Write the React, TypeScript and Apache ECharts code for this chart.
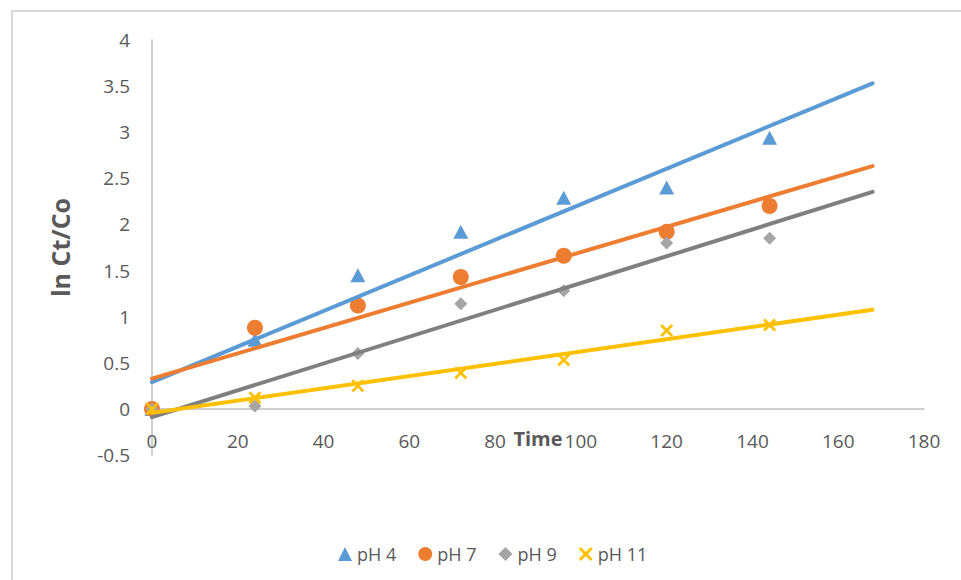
import React, { useEffect, useRef } from "react";
import * as echarts from "echarts";

// Sampling times (h) and ln(Ct/Co) at each pH
const times = [0, 24, 48, 72, 96, 120, 144];
const ph4 = [0, 0.75, 1.45, 1.92, 2.29, 2.4, 2.94];
const ph7 = [0, 0.88, 1.12, 1.43, 1.66, 1.92, 2.2];
const ph9 = [0, 0.03, 0.6, 1.14, 1.28, 1.8, 1.85];
const ph11 = [0, 0.12, 0.25, 0.39, 0.53, 0.85, 0.91];

const seriesNames = ["pH 4", "pH 7", "pH 9", "pH 11"];
const markerColors = ["#5B9BD5", "#ED7D31", "#A5A5A5", "#FFC000"];
const trendColors = ["#5B9BD5", "#ED7D31", "#7F7F7F", "#FFC000"];
const trendRange = [0, 168];

const crossSymbol =
  "path://M1.5,0 L5,3.5 L8.5,0 L10,1.5 L6.5,5 L10,8.5 L8.5,10 L5,6.5 L1.5,10 L0,8.5 L3.5,5 L0,1.5 Z";
const symbols = ["triangle", "circle", "diamond", crossSymbol];
const symbolSizes = [[15, 14], 16, 13, 13];

// Ordinary least-squares fit, as a linear trendline
function linearFit(xs: number[], ys: number[]) {
  const n = xs.length;
  const mx = xs.reduce((a, b) => a + b, 0) / n;
  const my = ys.reduce((a, b) => a + b, 0) / n;
  let sxy = 0;
  let sxx = 0;
  for (let i = 0; i < n; i++) {
    sxy += (xs[i] - mx) * (ys[i] - my);
    sxx += (xs[i] - mx) * (xs[i] - mx);
  }
  const slope = sxy / sxx;
  return { slope, intercept: my - slope * mx };
}

const FONT = "'Open Sans', 'Liberation Sans', sans-serif";
const TEXT = "#595959";

export default function App() {
  const ref = useRef<HTMLDivElement>(null);

  useEffect(() => {
    if (!ref.current) return;
    const chart = echarts.init(ref.current, undefined, { renderer: "svg" });
    const all = [ph4, ph7, ph9, ph11];

    const scatter = all.map((ys, i) => ({
      name: seriesNames[i],
      type: "scatter",
      symbol: symbols[i],
      symbolSize: symbolSizes[i],
      itemStyle: { color: markerColors[i], opacity: 1 },
      data: times.map((t, j) => [t, ys[j]]),
      z: 2,
    }));

    const trends = all.map((ys, i) => {
      const { slope, intercept } = linearFit(times, ys);
      return {
        name: seriesNames[i] + " trend",
        type: "line",
        showSymbol: false,
        symbol: "none",
        lineStyle: { color: trendColors[i], width: 4, cap: "round" },
        data: trendRange.map((x) => [x, intercept + slope * x]),
        z: 3,
        silent: true,
      };
    });

    chart.setOption({
      animation: false,
      textStyle: { fontFamily: FONT },
      grid: { left: 152, right: 37, top: 40, bottom: 125, containLabel: false },
      graphic: [
        {
          type: "rect",
          shape: { x: 12, y: 11, width: 1000, height: 620 },
          style: { fill: "none", stroke: "#D9D9D9", lineWidth: 2 },
          silent: true,
        },
      ],
      xAxis: {
        type: "value",
        min: 0,
        max: 180,
        interval: 20,
        // the horizontal axis sits on y = 0, one half-unit above the plot's lower edge
        offset: -46,
        name: "Time",
        nameLocation: "middle",
        nameGap: 19,
        nameMoveOverlap: false,
        nameTextStyle: { color: TEXT, fontSize: 20, fontWeight: "bold", fontFamily: FONT },
        axisLine: { onZero: false, lineStyle: { color: "#BFBFBF", width: 1.5 } },
        axisTick: { show: false },
        splitLine: { show: false },
        axisLabel: { color: TEXT, fontSize: 19, margin: 22, fontFamily: FONT },
      },
      yAxis: {
        type: "value",
        min: -0.5,
        max: 4,
        interval: 0.5,
        name: "ln Ct/Co",
        nameLocation: "middle",
        nameGap: 80,
        nameMoveOverlap: false,
        nameTextStyle: { color: TEXT, fontSize: 25, fontWeight: "bold", fontFamily: FONT },
        axisLine: { show: true, lineStyle: { color: "#BFBFBF", width: 1.5 } },
        axisTick: { show: false },
        splitLine: { show: false },
        axisLabel: { color: TEXT, fontSize: 19, margin: 22, fontFamily: FONT },
      },
      legend: {
        data: seriesNames.map((n, i) => ({ name: n, icon: symbols[i] })),
        left: 333,
        top: 540,
        itemWidth: 14,
        itemHeight: 14,
        itemGap: 22,
        textStyle: { color: TEXT, fontSize: 18, fontFamily: FONT },
      },
      series: [...scatter, ...trends],
    });

    return () => chart.dispose();
  }, []);

  return (
    <div
      ref={ref}
      style={{ position: "fixed", left: 0, top: 0, width: 961, height: 580, background: "#fff" }}
    />
  );
}
